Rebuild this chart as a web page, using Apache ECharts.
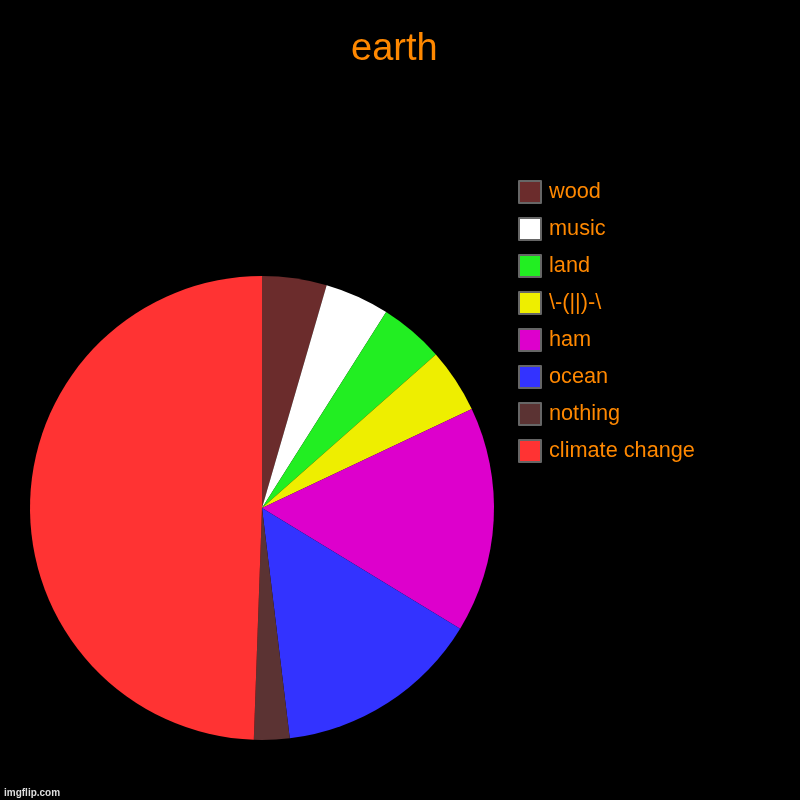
<!DOCTYPE html>
<html><head><meta charset="utf-8">
<script src="https://cdn.jsdelivr.net/npm/echarts@6/dist/echarts.min.js"></script>
<style>html,body{margin:0;padding:0;background:#000}#c{width:800px;height:800px}</style>
</head><body><div id="c"></div>
<script>
const categories = ['wood','music','land','\\-(||)-\\','ham','ocean','nothing','climate change'];
const values = [5, 5, 5, 5, 17.5, 16, 2.75, 55];
const colors = ['#6b2c2c','#ffffff','#22ee22','#eeee00','#dd00cc','#3333ff','#5b3333','#ff3333'];

const chart = echarts.init(document.getElementById('c'));
chart.setOption({
  backgroundColor: '#000',
  animation: false,
  title: {
    text: 'earth', left: 346, top: 26,
    textStyle: { color: '#ff8800', fontSize: 38, fontWeight: 'normal', fontFamily: 'Liberation Sans' }
  },
  legend: {
    orient: 'vertical', left: 513, top: 175,
    data: categories.slice(),
    icon: 'rect', itemWidth: 22, itemHeight: 22, itemGap: 13,
    itemStyle: { borderColor: '#666', borderWidth: 2 },
    textStyle: { color: '#ff8800', fontSize: 21.7, fontFamily: 'Liberation Sans', padding: [0,0,0,3] },
    selectedMode: false
  },
  graphic: [{
    type: 'text', left: 4, top: 788,
    style: { text: 'imgflip.com', fill: '#ddd', font: 'bold 10px "Liberation Sans"' }
  }],
  series: [{
    type: 'pie', center: [262, 508], radius: 232,
    startAngle: 90, clockwise: true,
    label: { show: false }, labelLine: { show: false },
    emphasis: { disabled: true },
    data: categories.map((n, i) => ({ name: n, value: values[i], itemStyle: { color: colors[i] } }))
  }]
});
</script></body></html>
